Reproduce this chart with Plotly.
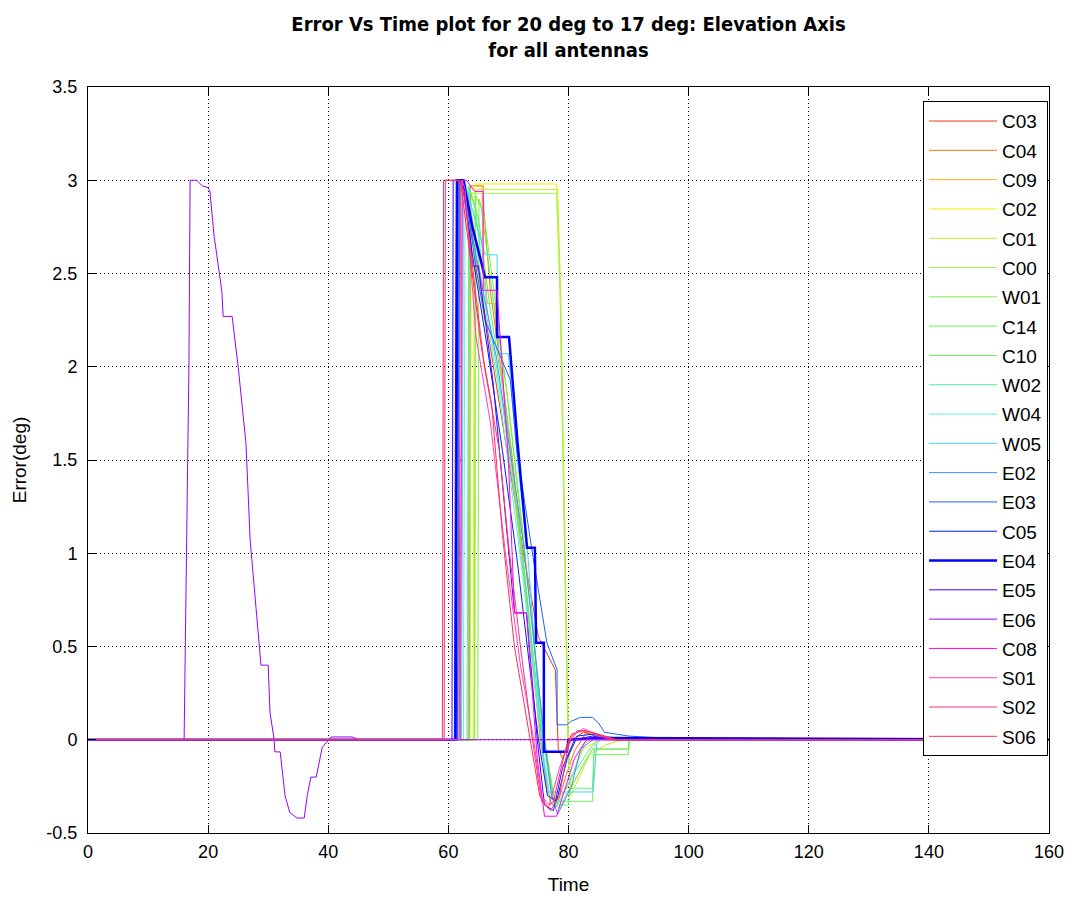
import plotly.graph_objects as go

names = ["C03", "C04", "C09", "C02", "C01", "C00", "W01", "C14", "C10", "W02", "W04",
         "W05", "E02", "E03", "C05", "E04", "E05", "E06", "C08", "S01", "S02", "S06"]
colors = ["#f03c10", "#ff7010", "#ffb020", "#f0f000", "#c0f020", "#a0f060", "#80f040",
          "#70f050", "#60f060", "#50f0a0", "#60f0d0", "#40d0ff", "#4090ff", "#2060ff",
          "#0020f0", "#0000ff", "#4000ff", "#9900ff", "#ff00ff", "#ff40c0", "#ff3080", "#ff3050"]

t_C03 = [0, 61.8, 62.0, 62.8, 65.0, 67.5, 70.0, 72.5, 75.0, 77.8, 78.3, 79.0, 80.5, 82.5, 86, 90, 160]
e_C03 = [0, 0, 3.0, 2.95, 2.5, 2.0, 1.5, 1.0, 0.55, 0.375, -0.05, -0.1, 0.0, 0.04, 0.01, 0, 0]
t_C04 = [0, 63.5, 63.7, 65.8, 65.9, 67.0, 68.5, 70.5, 72.5, 74.5, 75.3, 77.0, 78.0, 79.5, 81.0, 83, 86, 160]
e_C04 = [0, 0, 2.97, 2.97, 2.85, 2.4, 2.05, 1.55, 0.95, 0.3, 0.0, -0.34, -0.36, -0.2, -0.06, 0.04, 0, 0]
t_C09 = [0, 63.3, 63.5, 65.6, 65.7, 66.5, 67.6, 69.5, 71.5, 73.5, 75.3, 76.8, 78.0, 80.0, 82.5, 85, 88, 160]
e_C09 = [0, 0, 2.97, 2.97, 2.6, 2.34, 2.34, 1.75, 1.2, 0.6, 0.0, -0.3, -0.32, -0.25, -0.02, 0.02, 0, 0]
t_C02 = [0, 64.1, 64.3, 78.0, 78.6, 79.3, 79.9, 80.2, 82.5, 85, 160]
e_C02 = [0, 0, 2.98, 2.98, 2.4, 1.0, 0.0, -0.22, -0.05, 0, 0]
t_C01 = [0, 64.4, 64.6, 78.2, 78.7, 79.4, 80.0, 80.4, 83.5, 86, 89, 160]
e_C01 = [0, 0, 2.95, 2.95, 2.4, 1.0, 0.0, -0.3, -0.08, -0.03, 0, 0]
t_C00 = [0, 63.6, 63.8, 78.0, 78.6, 79.3, 79.9, 80.3, 83.0, 85, 160]
e_C00 = [0, 0, 2.93, 2.93, 2.4, 1.0, 0.0, -0.27, -0.1, 0, 0]
t_W01 = [0, 64.9, 65.1, 66.0, 68.0, 70.0, 72.3, 74.3, 76.0, 77.8, 78.6, 79.5, 84.0, 90.0, 90.1, 160]
e_W01 = [0, 0, 2.9, 2.8, 2.3, 1.8, 1.15, 0.5, 0.0, -0.35, -0.37, -0.3, -0.05, -0.05, 0, 0]
t_C14 = [0, 64.3, 64.5, 65.5, 67.5, 69.8, 72.0, 74.0, 75.8, 77.5, 78.5, 84.0, 84.2, 90.0, 90.1, 160]
e_C14 = [0, 0, 2.92, 2.85, 2.35, 1.85, 1.2, 0.6, 0.0, -0.3, -0.33, -0.33, -0.08, -0.08, 0, 0]
t_C10 = [0, 63.3, 63.5, 65.0, 67.0, 69.5, 71.5, 73.5, 75.5, 76.0, 77.5, 78.5, 80.0, 80.2, 84.0, 84.3, 90.0, 90.1, 160]
e_C10 = [0, 0, 2.95, 2.8, 2.3, 1.8, 1.25, 0.65, 0.05, 0.0, -0.32, -0.35, -0.35, -0.26, -0.26, -0.05, -0.05, 0, 0]
t_W02 = [0, 63.1, 63.4, 64.5, 66.5, 69.0, 71.0, 73.0, 75.0, 75.8, 77.2, 78.2, 80.5, 83.5, 85, 89, 160]
e_W02 = [0, 0, 2.97, 2.85, 2.3, 1.8, 1.3, 0.75, 0.15, 0.0, -0.3, -0.35, -0.2, -0.05, 0.01, 0, 0]
t_W04 = [0, 62.5, 62.8, 63.5, 66.0, 68.5, 70.5, 72.5, 74.5, 75.5, 77.0, 78.0, 80.5, 83.0, 85, 88, 160]
e_W04 = [0, 0, 3.0, 2.9, 2.35, 1.85, 1.35, 0.85, 0.25, 0.0, -0.33, -0.36, -0.2, 0.0, 0.03, 0, 0]
t_W05 = [0, 62.2, 62.5, 63.5, 66.1, 68.1, 68.3, 70.0, 71.5, 73.2, 74.5, 75.5, 76.4, 84.1, 84.7, 86, 90, 160]
e_W05 = [0, 0, 3.0, 2.9, 2.6, 2.6, 2.07, 2.07, 1.5, 1.0, 0.45, 0.0, -0.28, -0.28, -0.02, 0.02, 0, 0]
t_E02 = [0, 61.6, 61.9, 62.8, 65.5, 68.0, 70.5, 72.5, 74.5, 76.0, 77.2, 78.2, 80.5, 82.0, 84.5, 88, 160]
e_E02 = [0, 0, 3.0, 2.9, 2.45, 2.05, 1.5, 1.05, 0.45, 0.0, -0.3, -0.4, -0.25, -0.05, 0.01, 0, 0]
t_E03 = [0, 61.5, 61.8, 62.8, 64.5, 66.1, 70.3, 71.4, 74.0, 76.4, 78.1, 78.1, 79.7, 80.5, 82, 84, 85, 86, 90, 100, 160]
e_E03 = [0, 0, 3.0, 2.95, 2.55, 2.25, 1.93, 1.55, 1.0, 0.52, 0.375, 0.08, 0.08, 0.10, 0.12, 0.12, 0.09, 0.04, 0.02, 0, 0]
t_C05 = [0, 61.0, 61.3, 62.3, 64.0, 66.5, 69.0, 71.5, 73.5, 75.0, 76.5, 78.0, 79.8, 81.5, 84, 88, 160]
e_C05 = [0, 0, 3.0, 3.0, 2.6, 2.1, 1.55, 0.95, 0.4, 0.0, -0.3, -0.33, -0.1, 0.02, 0.03, 0, 0]
t_E04 = [0, 61.2, 61.5, 62.5, 64.0, 66.1, 68.1, 68.1, 70.1, 71.5, 73.1, 74.4, 74.6, 75.9, 75.9, 79.7, 80.0, 85, 160]
e_E04 = [0, 0, 3.0, 3.0, 2.75, 2.48, 2.48, 2.16, 2.16, 1.6, 1.03, 1.03, 0.52, 0.52, -0.065, -0.065, 0.0, 0.01, 0]
t_E05 = [0, 60.6, 60.8, 62.3, 63.8, 64.0, 65.0, 67.5, 69.5, 71.0, 73.0, 74.8, 76.0, 77.5, 79.0, 81.0, 84, 87, 160]
e_E05 = [0, 0, 3.0, 3.0, 2.65, 2.54, 2.54, 1.9, 1.2, 0.68, 0.68, 0.0, -0.35, -0.38, -0.15, 0.0, 0.02, 0, 0]
t_E06 = [0, 16.0, 16.4, 16.8, 17.0, 18.1, 19.0, 20.0, 20.3, 21.0, 21.7, 22.3, 22.5, 24.0, 25.0, 26.1,
         26.3, 27.0, 27.8, 28.6, 28.8, 30.0, 30.3, 31.0, 31.1, 32.0, 32.8, 33.6, 34.8, 36.0, 36.5,
         37.1, 38.0, 39.0, 39.8, 40.5, 44, 45, 160]
e_E06 = [0, 0, 1.0, 2.0, 3.0, 3.0, 2.97, 2.96, 2.94, 2.70, 2.54, 2.40, 2.27, 2.27, 2.0, 1.68,
         1.59, 1.07, 0.77, 0.45, 0.40, 0.40, 0.145, 0.0, -0.065, -0.065, -0.30, -0.39, -0.42, -0.42, -0.30,
         -0.20, -0.20, -0.04, -0.01, 0.015, 0.015, 0, 0]
t_C08 = [0, 62.0, 62.3, 63.0, 64.4, 65.8, 65.8, 68.1, 70.0, 71.0, 73.0, 74.8, 76.0, 78.0, 81.0, 83.0, 160]
e_C08 = [0, 0, 3.0, 3.0, 2.94, 2.94, 2.41, 2.41, 1.5, 0.68, 0.68, -0.1, -0.41, -0.41, -0.1, 0.0, 0]
t_S01 = [0, 62.0, 62.3, 62.8, 64.6, 67.0, 69.5, 72.0, 74.2, 75.5, 76.8, 78.5, 80.5, 82.5, 85, 88, 160]
e_S01 = [0, 0, 3.0, 2.95, 2.16, 1.7, 1.0, 0.4, 0.0, -0.3, -0.35, -0.15, 0.02, 0.06, 0.02, 0, 0]
t_S02 = [0, 59.3, 59.5, 61.5, 62.5, 64.0, 66.0, 68.5, 70.0, 72.0, 74.0, 75.5, 77.0, 78.5, 80.0, 81.5, 84, 87, 160]
e_S02 = [0, 0, 3.0, 3.0, 2.95, 2.55, 2.0, 1.55, 1.05, 0.5, 0.0, -0.33, -0.38, -0.3, -0.02, 0.05, 0.04, 0, 0]
t_S06 = [0, 59.0, 59.2, 62.0, 63.0, 65.5, 67.2, 69.0, 71.0, 73.6, 75.2, 76.5, 77.5, 79.5, 80.5, 82.5, 85, 88, 160]
e_S06 = [0, 0, 3.0, 3.0, 2.75, 2.1, 1.8, 1.1, 0.5, 0.0, -0.3, -0.36, -0.33, -0.05, 0.03, 0.05, 0.03, 0, 0]

series_t = [t_C03, t_C04, t_C09, t_C02, t_C01, t_C00, t_W01, t_C14, t_C10, t_W02, t_W04,
            t_W05, t_E02, t_E03, t_C05, t_E04, t_E05, t_E06, t_C08, t_S01, t_S02, t_S06]
series_e = [e_C03, e_C04, e_C09, e_C02, e_C01, e_C00, e_W01, e_C14, e_C10, e_W02, e_W04,
            e_W05, e_E02, e_E03, e_C05, e_E04, e_E05, e_E06, e_C08, e_S01, e_S02, e_S06]

x_ticks = [0, 20, 40, 60, 80, 100, 120, 140, 160]
y_ticks = [-0.5, 0, 0.5, 1, 1.5, 2, 2.5, 3, 3.5]
y_tick_text = ["-0.5", "0", "0.5", "1", "1.5", "2", "2.5", "3", "3.5"]

fig = go.Figure()
for i, (n, c) in enumerate(zip(names, colors)):
    fig.add_trace(go.Scatter(
        x=series_t[i], y=series_e[i], mode="lines", name=n,
        line=dict(color=c, width=2.5 if n == "E04" else 1),
        legendgroup=n,
    ))

tick_font = dict(family="Liberation Sans, Arial, sans-serif", size=18, color="black")
label_font = dict(family="Liberation Sans, Arial, sans-serif", size=19, color="black")
legend_font = dict(family="Liberation Sans, Arial, sans-serif", size=19, color="black")
title_font = dict(family="DejaVu Sans Condensed, Liberation Sans Narrow, sans-serif",
                  size=20, color="black", weight="bold")

axis_common = dict(
    showline=True, linecolor="black", linewidth=1, mirror="ticks",
    ticks="inside", ticklen=8, tickcolor="black",
    showgrid=True, gridcolor="black", griddash="1px,3px", gridwidth=1,
    zeroline=False, tickfont=tick_font, automargin=False,
)

fig.update_layout(
    width=1067, height=893,
    paper_bgcolor="white", plot_bgcolor="white",
    margin=dict(l=80, r=26, t=79, b=68),
    title=dict(
        text="Error Vs Time plot for 20 deg to 17 deg: Elevation Axis<br>for all antennas",
        xref="paper", x=0.5, xanchor="center", y=0.9746, yanchor="top",
        font=title_font, automargin=False,
    ),
    xaxis=dict(axis_common, range=[0, 160], tickvals=x_ticks, ticklabelstandoff=2,
               title=dict(text="Time", standoff=17, font=label_font)),
    yaxis=dict(axis_common, range=[-0.5, 3.5], tickvals=y_ticks, ticktext=y_tick_text,
               ticklabelstandoff=6,
               title=dict(text="Error(deg)", standoff=14, font=label_font)),
    legend=dict(
        x=0.999, xanchor="right", y=0.981, yanchor="top",
        bgcolor="white", bordercolor="black", borderwidth=1,
        font=legend_font,
        tracegroupgap=1.6, itemwidth=68,
    ),
    showlegend=True,
)

fig.write_html("out.html")
